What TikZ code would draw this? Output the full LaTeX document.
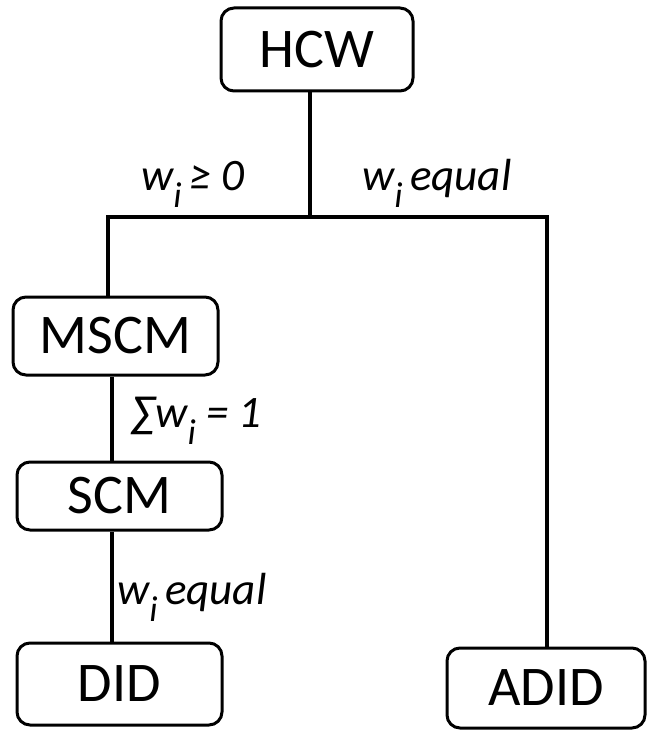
\documentclass[tikz,border=0pt]{standalone}
\usepackage{fontspec}
\setmainfont{Carlito}
\begin{document}
\begin{tikzpicture}[x=1pt,y=-1pt,
  box/.style={draw=black,line width=3pt,rounded corners=13pt,inner sep=0pt,
    font=\fontsize{56}{60}\selectfont},
  conn/.style={line width=4.5pt},
  lbl/.style={anchor=base west,inner sep=0pt,font=\fontsize{45}{48}\selectfont\itshape}]
\useasboundingbox (0,0) rectangle (647,730);
\newcommand{\wsub}{w\raisebox{-17pt}{\fontsize{36}{36}\selectfont\itshape i}}
\node[box,minimum width=192pt,minimum height=83pt] (hcw) at (317,49.5) {HCW};
\node[box,minimum width=205pt,minimum height=78pt] (mscm) at (115.5,336) {MSCM};
\node[box,minimum width=205pt,minimum height=68pt] (scm) at (119.5,496) {SCM};
\node[box,minimum width=205pt,minimum height=82pt] (did) at (119.5,684) {DID};
\node[box,minimum width=198pt,minimum height=80pt] (adid) at (546,688) {ADID};
\coordinate (j) at (310,217);
\coordinate (l) at (108,217);
\coordinate (r) at (547,217);
\draw[conn] (hcw.south -| j) -- (j);
\draw[conn] (mscm.north -| l) -- (l) -- (r) -- (adid.north -| r);
\draw[conn] ([xshift=-3.5pt]mscm.south) -- ([xshift=-3.5pt]mscm.south |- scm.north);
\draw[conn] ([xshift=-7.5pt]scm.south) -- ([xshift=-7.5pt]scm.south |- did.north);
\node[lbl] (l1) at (141,190) {\wsub\,≥ 0};
\node[lbl] (l2) at (362,190) {\wsub\,equal};
\node[lbl] (l3) at (131,427) {∑\wsub\ = 1};
\node[lbl] (l4) at (117,604) {\wsub\,equal};
\end{tikzpicture}
\end{document}
